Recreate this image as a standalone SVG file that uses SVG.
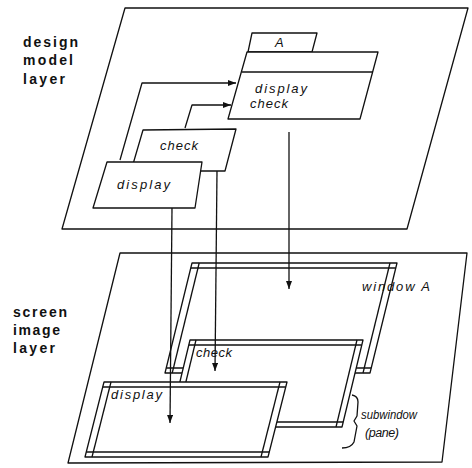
<svg xmlns="http://www.w3.org/2000/svg" width="472" height="468" viewBox="0 0 472 468">
<style>
.ln{fill:none;stroke:#111;stroke-width:1.3;stroke-linejoin:round}
.box{fill:#fff;stroke:#111;stroke-width:1.3;stroke-linejoin:round}
.lay{font-family:"Liberation Sans",Arial,sans-serif;font-size:14px;font-weight:bold;fill:#111}
.it{font-family:"Liberation Sans",Arial,sans-serif;font-size:13px;font-style:italic;fill:#111}
.sm{font-size:12.5px}
</style>
<defs>
<marker id="ah" viewBox="0 0 8 6" refX="8" refY="3" markerWidth="8" markerHeight="6" markerUnits="userSpaceOnUse" orient="auto">
<path d="M0,0 L8,3 L0,6 Z" fill="#111"/>
</marker>
</defs>
<rect width="472" height="468" fill="#fff"/>

<g id="design-layer">
<polygon class="box" points="125,8 468,8 407,229 62,229"/>
<text class="lay" x="23" y="47" textLength="55" lengthAdjust="spacing">design</text>
<text class="lay" x="23" y="65" textLength="50" lengthAdjust="spacing">model</text>
<text class="lay" x="23" y="84" textLength="42" lengthAdjust="spacing">layer</text>
</g>

<g id="screen-layer">
<polygon class="box" points="120,253 467,253 442,462 68,463"/>
<text class="lay" x="13" y="317" textLength="54" lengthAdjust="spacing">screen</text>
<text class="lay" x="13" y="335" textLength="47" lengthAdjust="spacing">image</text>
<text class="lay" x="13" y="353" textLength="42" lengthAdjust="spacing">layer</text>
</g>

<g id="class-A">
<polygon class="box" points="252,33 317,33 312,52 248,52"/>
<polygon class="box" points="247,52 378,52 360,119 228,119"/>
<line class="ln" x1="242" y1="72" x2="373" y2="72"/>
<text class="it" x="275" y="47">A</text>
<text class="it" x="255" y="93" textLength="52" lengthAdjust="spacing">display</text>
<text class="it" x="250" y="108" textLength="38" lengthAdjust="spacing">check</text>
</g>

<g id="op-check">
<polygon class="box" points="143,130 236,129 225,171 131,171"/>
<text class="it" x="160" y="150" textLength="38" lengthAdjust="spacing">check</text>
</g>

<g id="op-display">
<polygon class="box" points="107,162 202,162 195,208 93,208"/>
<text class="it" x="117" y="189" textLength="53" lengthAdjust="spacing">display</text>
</g>

<g id="window-A">
<polygon class="box" points="192,263 397,263 370,373 165,373"/>
<line class="ln" x1="190.8" y1="268" x2="395.8" y2="268"/>
<line class="ln" x1="166.2" y1="368" x2="371.2" y2="368"/>
<line class="ln" x1="199.2" y1="263" x2="172.2" y2="373"/>
<line class="ln" x1="390" y1="263" x2="363" y2="373"/>
<text class="it" x="362" y="291" textLength="68" lengthAdjust="spacing">window A</text>
</g>

<g id="subwindow-check">
<polygon class="box" points="190,340 363,340 342,427 169,427"/>
<line class="ln" x1="188.8" y1="345" x2="361.8" y2="345"/>
<line class="ln" x1="170.2" y1="422" x2="343.2" y2="422"/>
<line class="ln" x1="196" y1="340" x2="175" y2="427"/>
<line class="ln" x1="357" y1="340" x2="336" y2="427"/>
<text class="it" x="196" y="357" textLength="36" lengthAdjust="spacing">check</text>
</g>

<g id="subwindow-display">
<polygon class="box" points="104,382 287,382 268,457 85,457"/>
<line class="ln" x1="102.7" y1="387" x2="285.7" y2="387"/>
<line class="ln" x1="86.3" y1="452" x2="269.3" y2="452"/>
<line class="ln" x1="111" y1="382" x2="92" y2="457"/>
<line class="ln" x1="280" y1="382" x2="261" y2="457"/>
<text class="it" x="111" y="399" textLength="51" lengthAdjust="spacing">display</text>
</g>

<g id="pane-label">
<path class="ln" d="M352,395 Q358,396 358,402 L357,416 L354,421 L357,426 L354,442 Q351,448 342,448"/>
<text class="it sm" x="361" y="419" textLength="56" lengthAdjust="spacingAndGlyphs">subwindow</text>
<text class="it sm" x="365" y="437" textLength="34" lengthAdjust="spacing">(pane)</text>
</g>

<g id="connectors">
<polyline class="ln" points="120,160 142,83 236,83" marker-end="url(#ah)"/>
<polyline class="ln" points="185,128 192,105 231,105" marker-end="url(#ah)"/>
<line class="ln" x1="172" y1="208" x2="170" y2="423" marker-end="url(#ah)"/>
<line class="ln" x1="217" y1="171" x2="215" y2="371" marker-end="url(#ah)"/>
<line class="ln" x1="289" y1="132" x2="289" y2="289" marker-end="url(#ah)"/>
</g>
</svg>
